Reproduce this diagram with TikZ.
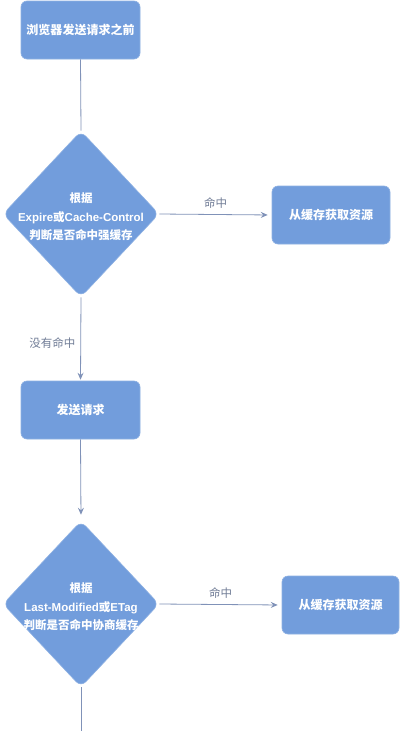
\documentclass[tikz,border=0pt]{standalone}
\usepackage{fontspec}
\setmainfont{Liberation Sans}
\newfontfamily\cjk{Noto Sans CJK SC}
\usetikzlibrary{shapes.geometric,arrows.meta}
\definecolor{boxblue}{RGB}{114,157,220}
\definecolor{linegray}{RGB}{128,146,184}
\definecolor{labelgray}{RGB}{112,124,150}
\tikzset{
  procbox/.style={rectangle, rounded corners=6pt, fill=boxblue, draw=boxblue!80!white, line width=0.6pt,
    minimum width=119pt, minimum height=58pt, inner sep=0pt, text=white,
    font=\fontsize{12pt}{18pt}\selectfont\bfseries\cjk},
  decide/.style={diamond, rounded corners=7pt, fill=boxblue, draw=boxblue!80!white, line width=0.6pt,
    minimum width=156pt, minimum height=166pt, inner sep=0pt},
  dtext/.style={align=center, text=white, inner sep=0pt,
    font=\fontsize{11.5pt}{18.5pt}\selectfont\bfseries},
  conn/.style={draw=linegray, line width=0.8pt},
  arr/.style={conn, -{Stealth[length=7pt,width=6pt,inset=2.5pt]}},
  elabel/.style={text=labelgray, font=\fontsize{11.5pt}{14pt}\selectfont\cjk, inner sep=0pt}
}
\begin{document}
\begin{tikzpicture}[x=1pt,y=-1pt]
\useasboundingbox[fill=white] (0,0) rectangle (401,731);
\node[procbox] (b1) at (80.5,30) {浏览器发送请求之前};
\node[decide] (d1) at (81,214) {};
\node[dtext] (t1) at ([yshift=-3pt]d1.center) {{\cjk 根据}\\Expire{\cjk 或}Cache-Control\\{\cjk 判断是否命中强缓存}};
\node[procbox, minimum width=118pt] (b2) at (331,215) {从缓存获取资源};
\node[procbox] (b3) at (80.5,410) {发送请求};
\node[decide] (d2) at (81,604) {};
\node[dtext] (t2) at ([yshift=-3pt]d2.center) {{\cjk 根据}\\Last-Modified{\cjk 或}ETag\\{\cjk 判断是否命中协商缓存}};
\node[procbox, minimum width=117pt] (b4) at (340.5,605) {从缓存获取资源};
\coordinate (bot) at (81,731);

\draw[conn] (b1.south) -- (d1.north);
\draw[arr, shorten >=4pt] (d1.east) -- node[elabel, above=6pt] (l1) {命中} (b2.west);
\draw[arr, shorten >=1pt] (d1.south) -- node[elabel, pos=0.55, anchor=east, xshift=-5pt] (l2) {没有命中} (b3.north);
\draw[arr, shorten >=6pt] (b3.south) -- (d2.north);
\draw[arr, shorten >=4pt] (d2.east) -- node[elabel, above=6pt] (l3) {命中} (b4.west);
\draw[conn] (d2.south) -- (bot);
\end{tikzpicture}
\end{document}
